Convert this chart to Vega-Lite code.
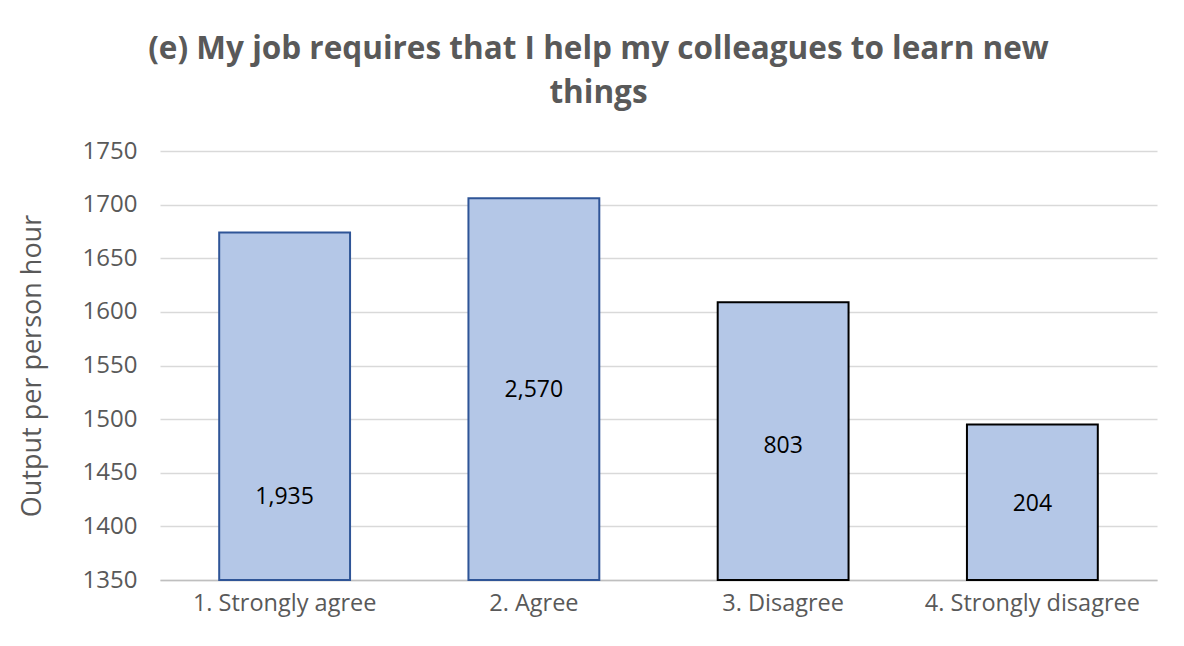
{
  "$schema": "https://vega.github.io/schema/vega-lite/v6.json",
  "width": 997,
  "height": 429,
  "autosize": "none",
  "padding": {"left": 160, "top": 151, "right": 27, "bottom": 66},
  "background": "white",
  "config": {
    "view": {"stroke": null},
    "font": "Open Sans"
  },
  "title": {
    "text": ["(e) My job requires that I help my colleagues to learn new", "things"],
    "font": "Open Sans",
    "fontSize": 31.5,
    "fontWeight": "bold",
    "color": "#595959",
    "lineHeight": 44,
    "anchor": "middle",
    "dx": -60,
    "offset": 30
  },
  "data": {
    "values": [
      {"category": "1. Strongly agree", "output": 1674, "count": "1,935", "label_at": 1427},
      {"category": "2. Agree", "output": 1706, "count": "2,570", "label_at": 1527},
      {"category": "3. Disagree", "output": 1609, "count": "803", "label_at": 1475},
      {"category": "4. Strongly disagree", "output": 1495, "count": "204", "label_at": 1421}
    ]
  },
  "encoding": {
    "x": {
      "field": "category",
      "type": "nominal",
      "sort": null,
      "scale": {"paddingInner": 0.475, "paddingOuter": 0.2375},
      "axis": {
        "title": null,
        "labelAngle": 0,
        "labelFont": "Open Sans",
        "labelFontSize": 23.5,
        "labelColor": "#595959",
        "labelPadding": 11,
        "labelLimit": 0,
        "ticks": false,
        "domainColor": "#BFBFBF",
        "domainWidth": 1.5,
        "grid": false
      }
    }
  },
  "layer": [
    {
      "mark": {"type": "bar", "fill": "#B4C7E7", "strokeWidth": 2},
      "encoding": {
        "y": {
          "field": "output",
          "type": "quantitative",
          "scale": {"domain": [1350, 1750], "nice": false, "zero": false},
          "axis": {
            "title": "Output per person hour",
            "titleFont": "Open Sans",
            "titleFontSize": 27,
            "titleFontWeight": "normal",
            "titleColor": "#595959",
            "titlePadding": 36,
            "values": [1350, 1400, 1450, 1500, 1550, 1600, 1650, 1700, 1750],
            "labelFont": "Open Sans",
            "labelFontSize": 24,
            "labelColor": "#595959",
            "labelPadding": 23,
            "ticks": false,
            "domain": false,
            "grid": true,
            "gridColor": "#D9D9D9",
            "gridWidth": 1.5,
            "format": "d"
          }
        },
        "y2": {"datum": 1350},
        "stroke": {
          "condition": {
            "test": "datum.category === '1. Strongly agree' || datum.category === '2. Agree'",
            "value": "#2F5597"
          },
          "value": "#000000"
        }
      }
    },
    {
      "mark": {"type": "text", "font": "Open Sans", "fontSize": 23, "color": "#000000", "baseline": "middle", "align": "center"},
      "encoding": {
        "y": {"field": "label_at", "type": "quantitative"},
        "text": {"field": "count", "type": "nominal"}
      }
    }
  ]
}
